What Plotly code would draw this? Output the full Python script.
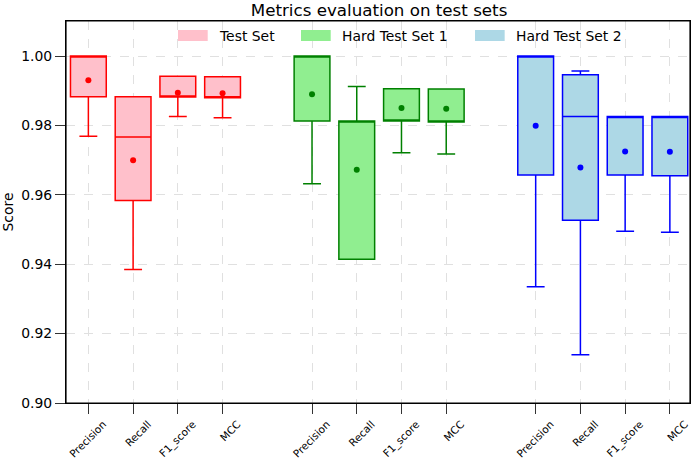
import plotly.graph_objects as go

metrics = ["Precision", "Recall", "F1_score", "MCC"]
groups = ["Test Set", "Hard Test Set 1", "Hard Test Set 2"]
positions = [[1, 2, 3, 4], [6, 7, 8, 9], [11, 12, 13, 14]]

# box statistics per group (Precision, Recall, F1_score, MCC)
q1 = [
    [0.9883, 0.9584, 0.9882, 0.9880],
    [0.9813, 0.9414, 0.9813, 0.9810],
    [0.9657, 0.9527, 0.9657, 0.9655],
]
median = [
    [1.0000, 0.9767, 0.9882, 0.9880],
    [1.0000, 0.9813, 0.9813, 0.9810],
    [1.0000, 0.9826, 0.9826, 0.9826],
]
q3 = [
    [1.0000, 0.9883, 0.9942, 0.9940],
    [1.0000, 0.9813, 0.9906, 0.9905],
    [1.0000, 0.9946, 0.9826, 0.9826],
]
lower = [
    [0.9769, 0.9385, 0.9826, 0.9822],
    [0.9632, 0.9414, 0.9721, 0.9718],
    [0.9335, 0.9139, 0.9495, 0.9492],
]
upper = [
    [1.0000, 0.9883, 0.9942, 0.9940],
    [1.0000, 0.9912, 0.9906, 0.9905],
    [1.0000, 0.9957, 0.9826, 0.9826],
]
means = [
    [0.9930, 0.9700, 0.9894, 0.9893],
    [0.9890, 0.9672, 0.9850, 0.9848],
    [0.9799, 0.9679, 0.9725, 0.9724],
]

fills = ["pink", "lightgreen", "lightblue"]
edges = ["red", "green", "blue"]

fig = go.Figure()
for g in range(3):
    fig.add_trace(go.Box(
        x=positions[g], q1=q1[g], median=median[g], q3=q3[g],
        lowerfence=lower[g], upperfence=upper[g],
        fillcolor=fills[g], line=dict(color=edges[g], width=1.5),
        width=0.8, whiskerwidth=0.5, boxpoints=False,
        showlegend=False, hoverinfo="skip", name=groups[g],
    ))
    fig.add_trace(go.Scatter(
        x=positions[g], y=means[g], mode="markers",
        marker=dict(color=edges[g], size=6), showlegend=False, name=groups[g] + " mean",
    ))

# legend drawn as patches + labels (matplotlib style wide patches)
leg_patch_x = [0.1795, 0.3766, 0.6554]
leg_patch_w = 0.0476
for g in range(3):
    fig.add_shape(type="rect", xref="paper", yref="paper",
                  x0=leg_patch_x[g], x1=leg_patch_x[g] + leg_patch_w,
                  y0=0.9476, y1=0.9764, fillcolor=fills[g], line=dict(width=0))
    fig.add_annotation(text=groups[g], xref="paper", yref="paper",
                       x=leg_patch_x[g] + leg_patch_w + 0.015, y=0.962,
                       xanchor="left", yanchor="middle", showarrow=False,
                       font=dict(size=13.9, family="DejaVu Sans", color="black"))

tickvals = [p for grp in positions for p in grp]
ticktext = metrics * 3

fig.add_shape(type="rect", xref="paper", yref="paper", x0=0, x1=1, y0=0, y1=1,
              line=dict(color="black", width=1.2), fillcolor="rgba(0,0,0,0)", layer="above")

fig.update_layout(
    width=693, height=460,
    margin=dict(l=66, r=3, t=21, b=57, autoexpand=False),
    paper_bgcolor="white", plot_bgcolor="white",
    font=dict(family="DejaVu Sans", size=13.9, color="black"),
    showlegend=False,
    title=dict(text="Metrics evaluation on test sets", x=0.547, xanchor="center",
               y=0.979, yanchor="middle", font=dict(size=16.7)),
    xaxis=dict(range=[0.5, 14.45], tickvals=tickvals, ticktext=ticktext, tickangle=-45,
               ticklabelshift=15, automargin=False,
               tickfont=dict(size=10.5), ticks="outside", ticklen=10, tickcolor="#333",
               showline=True, linecolor="black", linewidth=1.2, mirror=True,
               showgrid=True, gridcolor="#e0e0e0", griddash="dash", zeroline=False),
    yaxis=dict(range=[0.9, 1.0101], tickvals=[0.90, 0.92, 0.94, 0.96, 0.98, 1.00],
               tickformat=".2f", ticks="outside", ticklen=10, tickcolor="#333",
               automargin=False,
               title=dict(text="Score", font=dict(size=13.9), standoff=6),
               showline=True, linecolor="black", linewidth=1.2, mirror=True,
               showgrid=True, gridcolor="#e0e0e0", griddash="dash", zeroline=False),
)

fig.write_html("out.html", config={"displayModeBar": False},
               post_script="document.body.style.margin='0';")
